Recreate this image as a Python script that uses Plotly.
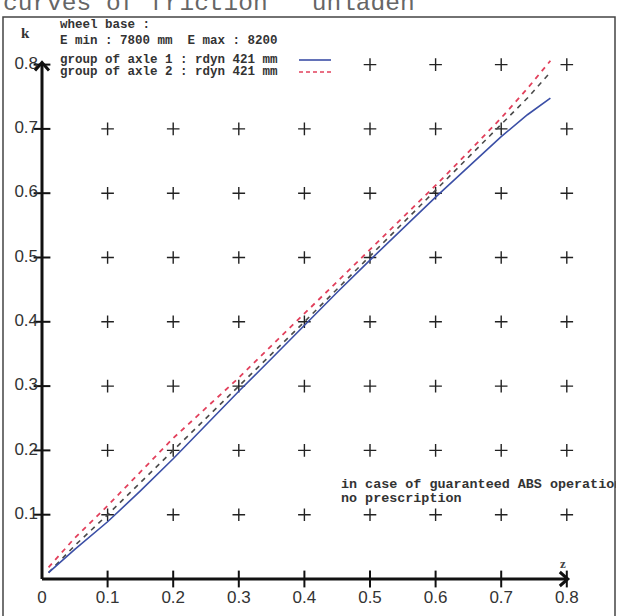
import plotly.graph_objects as go

# ---------------- data ----------------
z_vals = [0.01, 0.05, 0.10, 0.15, 0.20, 0.25, 0.30, 0.35, 0.40, 0.45, 0.50, 0.55, 0.60, 0.65, 0.70, 0.74, 0.775]
k_axle1 = [0.010, 0.046, 0.089, 0.137, 0.187, 0.240, 0.292, 0.343, 0.395, 0.446, 0.496, 0.545, 0.594, 0.641, 0.688, 0.722, 0.748]
k_axle2 = [0.018, 0.064, 0.114, 0.167, 0.219, 0.266, 0.313, 0.363, 0.413, 0.462, 0.512, 0.562, 0.612, 0.664, 0.717, 0.763, 0.806]
k_ref = [0.010, 0.052, 0.100, 0.150, 0.200, 0.250, 0.299, 0.349, 0.400, 0.451, 0.502, 0.553, 0.604, 0.655, 0.706, 0.748, 0.788]

grid_vals = [0.1, 0.2, 0.3, 0.4, 0.5, 0.6, 0.7, 0.8]
x_tick_vals = [0, 0.1, 0.2, 0.3, 0.4, 0.5, 0.6, 0.7, 0.8]
x_tick_labels = ["0", "0.1", "0.2", "0.3", "0.4", "0.5", "0.6", "0.7", "0.8"]
y_tick_vals = [0.1, 0.2, 0.3, 0.4, 0.5, 0.6, 0.7, 0.8]
y_tick_labels = ["0.1", "0.2", "0.3", "0.4", "0.5", "0.6", "0.7", "0.8"]

title_text = "curves of friction   unladen"
legend_lines = ["wheel base :", "E min : 7800 mm  E max : 8200"]
series_names = ["group of axle 1 : rdyn 421 mm", "group of axle 2 : rdyn 421 mm"]
note_lines = ["in case of guaranteed ABS operation", "no prescription"]

# ---------------- geometry ----------------
W, H = 630, 616
PW = 616            # plot area width (clips text at the frame)
X0PX, XSTEP = 42, 65.6   # pixel of z=0, pixels per 0.1
Y0PX, YSTEP = 579, 64.3  # pixel of k=0, pixels per 0.1
ux = 0.1 / XSTEP
uy = 0.1 / YSTEP
x_range = [-X0PX * ux, (PW - X0PX) * ux]
y_range = [-(H - Y0PX) * uy, Y0PX * uy]


def px(x):
    return x / PW


def py(y):
    return 1 - y / H


fig = go.Figure()

# grid of crosses
gx = [x for y in grid_vals for x in grid_vals]
gy = [y for y in grid_vals for x in grid_vals]
fig.add_trace(go.Scatter(x=gx, y=gy, mode="markers",
                         marker=dict(symbol="cross-thin", size=9,
                                     line=dict(width=1.4, color="#222")),
                         hoverinfo="skip"))

# curves
fig.add_trace(go.Scatter(x=z_vals, y=k_ref, mode="lines",
                         line=dict(color="#4a4a4a", width=1.6, dash="5px,5px")))
fig.add_trace(go.Scatter(x=z_vals, y=k_axle2, mode="lines",
                         line=dict(color="#e2405c", width=1.8, dash="5px,5px")))
fig.add_trace(go.Scatter(x=z_vals, y=k_axle1, mode="lines",
                         line=dict(color="#3b4fa6", width=1.6)))

# axis tick marks
fig.add_trace(go.Scatter(x=[0] * len(y_tick_vals), y=y_tick_vals, mode="markers",
                         marker=dict(symbol="line-ew", size=12,
                                     line=dict(width=2, color="#111")),
                         hoverinfo="skip"))
fig.add_trace(go.Scatter(x=x_tick_vals[1:], y=[0] * (len(x_tick_vals) - 1), mode="markers",
                         marker=dict(symbol="line-ns", size=12,
                                     line=dict(width=2, color="#111")),
                         hoverinfo="skip"))

# tick labels
tick_font = dict(family="Liberation Sans Narrow, Arial Narrow, Liberation Sans", size=17, color="#333")
fig.add_trace(go.Scatter(x=[-0.006] * len(y_tick_vals), y=y_tick_vals, mode="text",
                         text=y_tick_labels, textposition="middle left",
                         textfont=tick_font, hoverinfo="skip"))
fig.add_trace(go.Scatter(x=x_tick_vals, y=[-0.031] * len(x_tick_vals), mode="text",
                         text=x_tick_labels, textposition="middle center",
                         textfont=tick_font, hoverinfo="skip"))

# note text (clipped by plot area at frame)
note_font = dict(family="Liberation Mono", size=13.4, color="#333")
fig.add_trace(go.Scatter(x=[(341 - X0PX) * ux] * 2,
                         y=[(Y0PX - 485) * uy, (Y0PX - 499) * uy],
                         mode="text", text=["<b>%s</b>" % t for t in note_lines],
                         textposition="middle right", textfont=note_font,
                         hoverinfo="skip", cliponaxis=True))

shapes = []
# frame
shapes.append(dict(type="rect", xref="paper", yref="paper",
                   x0=px(3), x1=px(615), y0=py(625), y1=py(17),
                   line=dict(color="#444", width=1.5), layer="above"))
# axes
shapes.append(dict(type="line", xref="x", yref="y", x0=0, y0=0, x1=0.8, y1=0,
                   line=dict(color="#111", width=3), layer="above"))
shapes.append(dict(type="line", xref="x", yref="y", x0=0, y0=0, x1=0, y1=0.8,
                   line=dict(color="#111", width=3), layer="above"))
# arrow heads
ax_, ay_ = 0.8 + 1 * ux, 0.8 + 2 * uy
shapes.append(dict(type="path", xref="x", yref="y",
                   path="M %f %f L %f %f L %f %f" % (ax_ - 8 * ux, 7 * uy, ax_, 0, ax_ - 8 * ux, -7 * uy),
                   line=dict(color="#111", width=3), layer="above"))
shapes.append(dict(type="path", xref="x", yref="y",
                   path="M %f %f L %f %f L %f %f" % (-7 * ux, ay_ - 8 * uy, 0, ay_, 7 * ux, ay_ - 8 * uy),
                   line=dict(color="#111", width=3), layer="above"))
# legend background
shapes.append(dict(type="rect", xref="paper", yref="paper",
                   x0=px(57), x1=px(334), y0=py(80), y1=py(18),
                   fillcolor="white", line=dict(width=0), layer="above"))
# legend samples
shapes.append(dict(type="line", xref="paper", yref="paper",
                   x0=px(299), x1=px(331), y0=py(60), y1=py(60),
                   line=dict(color="#3b4fa6", width=1.6), layer="above"))
shapes.append(dict(type="line", xref="paper", yref="paper",
                   x0=px(299), x1=px(331), y0=py(72), y1=py(72),
                   line=dict(color="#e2405c", width=1.6, dash="4px,3px"), layer="above"))

annotations = []
annotations.append(dict(xref="paper", yref="paper", x=px(1), y=py(19),
                        xanchor="left", yanchor="bottom", showarrow=False,
                        text=title_text,
                        font=dict(family="Liberation Mono", size=24.5, color="#666")))
leg_font = dict(family="Liberation Mono", size=12.5, color="#333")
for txt, ypx in zip(legend_lines + series_names, [25, 41, 60, 72]):
    annotations.append(dict(xref="paper", yref="paper", x=px(58), y=py(ypx),
                            xanchor="left", yanchor="middle", showarrow=False,
                            text="<b>%s</b>" % txt, font=leg_font))
annotations.append(dict(xref="paper", yref="paper", x=px(25), y=py(33),
                        xanchor="center", yanchor="middle", showarrow=False,
                        text="<b>k</b>",
                        font=dict(family="Liberation Serif", size=15, color="#333")))
annotations.append(dict(xref="paper", yref="paper", x=px(563), y=py(563),
                        xanchor="center", yanchor="middle", showarrow=False,
                        text="<b>z</b>",
                        font=dict(family="Liberation Serif", size=13, color="#444")))

fig.update_layout(
    width=W, height=H,
    margin=dict(l=0, r=W - PW, t=0, b=0),
    paper_bgcolor="white", plot_bgcolor="white",
    showlegend=False,
    xaxis=dict(range=x_range, visible=False, fixedrange=True),
    yaxis=dict(range=y_range, visible=False, fixedrange=True),
    shapes=shapes, annotations=annotations,
)

fig.write_html("out.html")
